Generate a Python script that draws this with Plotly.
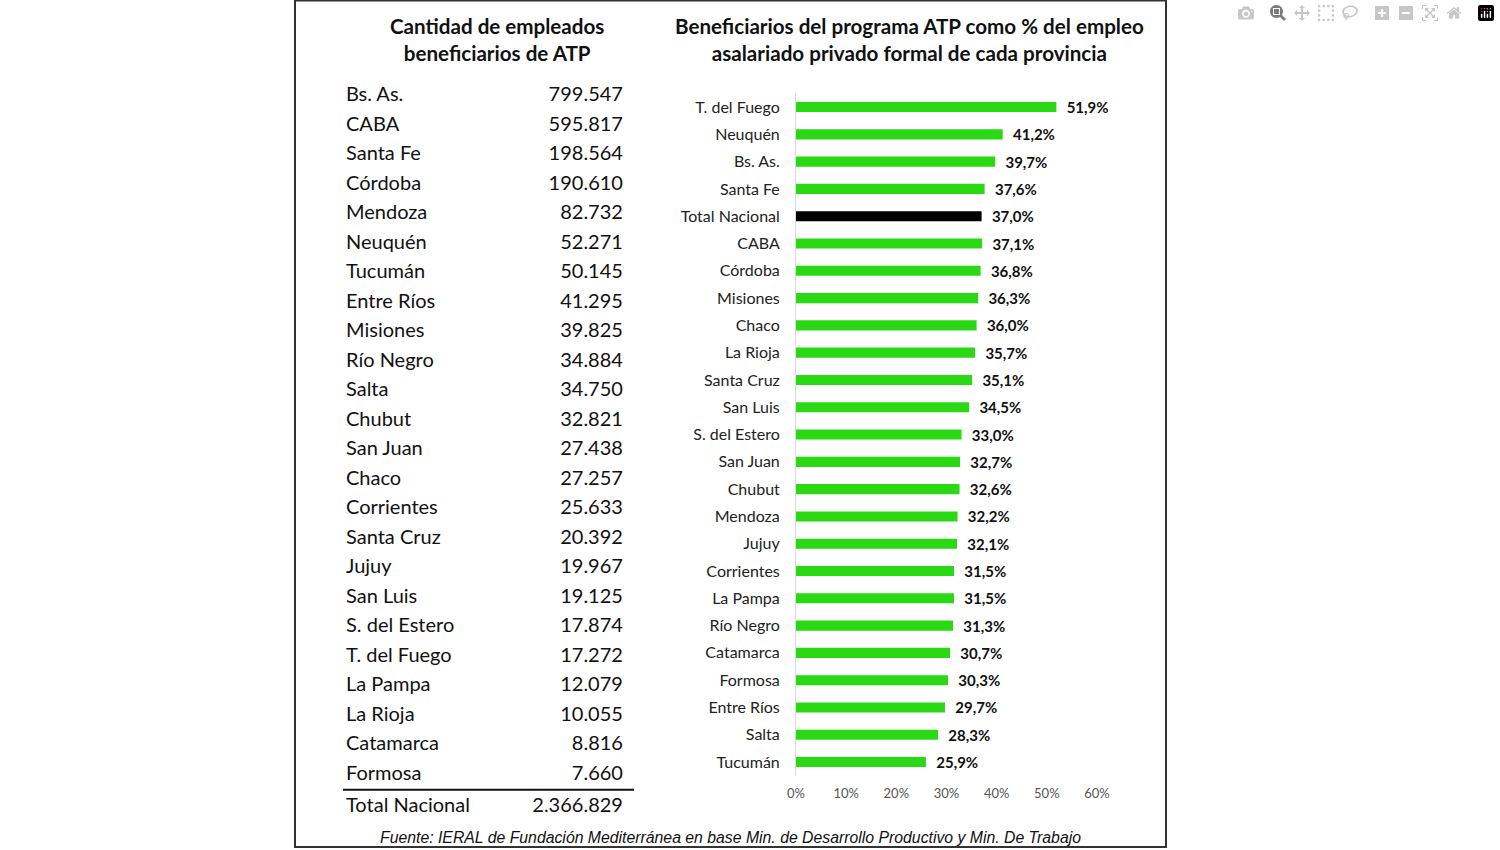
import plotly.graph_objects as go

# ---- data ----
bar_labels = ["T. del Fuego", "Neuquén", "Bs. As.", "Santa Fe", "Total Nacional", "CABA",
              "Córdoba", "Misiones", "Chaco", "La Rioja", "Santa Cruz", "San Luis",
              "S. del Estero", "San Juan", "Chubut", "Mendoza", "Jujuy", "Corrientes",
              "La Pampa", "Río Negro", "Catamarca", "Formosa", "Entre Ríos", "Salta", "Tucumán"]
bar_values = [51.9, 41.2, 39.7, 37.6, 37.0, 37.1, 36.8, 36.3, 36.0, 35.7, 35.1, 34.5,
              33.0, 32.7, 32.6, 32.2, 32.1, 31.5, 31.5, 31.3, 30.7, 30.3, 29.7, 28.3, 25.9]

table_names = ["Bs. As.", "CABA", "Santa Fe", "Córdoba", "Mendoza", "Neuquén", "Tucumán",
               "Entre Ríos", "Misiones", "Río Negro", "Salta", "Chubut", "San Juan", "Chaco",
               "Corrientes", "Santa Cruz", "Jujuy", "San Luis", "S. del Estero", "T. del Fuego",
               "La Pampa", "La Rioja", "Catamarca", "Formosa", "Total Nacional"]
table_values = [799547, 595817, 198564, 190610, 82732, 52271, 50145, 41295, 39825, 34884,
                34750, 32821, 27438, 27257, 25633, 20392, 19967, 19125, 17874, 17272,
                12079, 10055, 8816, 7660, 2366829]

x_ticks = [0, 10, 20, 30, 40, 50, 60]
x_tick_text = [f"{v}%" for v in x_ticks]

W, H = 1500, 850
def px(x):
    return x / W
def py(y):
    return 1 - y / H

GREEN = "#2ad814"
bar_colors = ["#000000" if n == "Total Nacional" else GREEN for n in bar_labels]

fig = go.Figure()

fig.add_trace(go.Bar(
    x=bar_values, y=bar_labels, orientation="h",
    marker=dict(color=bar_colors, line=dict(width=0)),
    width=0.37,
    texttemplate="  %{x:.1f}%", textposition="outside", constraintext="none",
    textfont=dict(family="Lato", size=15, color="#111111", weight="bold"),
    cliponaxis=False, hoverinfo="skip", xaxis="x", yaxis="y",
))

# row positions: provinces evenly spaced, total row slightly separated below the rule
rows = list(range(len(table_names) - 1)) + [len(table_names) - 1 + 0.1]
fig.add_trace(go.Scatter(
    x=[0.0103] * len(table_names), y=rows, mode="text", text=table_names,
    textposition="middle right",
    textfont=dict(family="Lato", size=20, color="#111111"),
    xaxis="x2", yaxis="y2", hoverinfo="skip", cliponaxis=False,
))
fig.add_trace(go.Scatter(
    x=[0.962] * len(table_values), y=rows, mode="text", customdata=table_values,
    texttemplate="%{customdata:,d}", textposition="middle left",
    textfont=dict(family="Lato", size=20, color="#111111"),
    xaxis="x2", yaxis="y2", hoverinfo="skip", cliponaxis=False,
))

y_top, y_bot = 93.4, 775.7
fig.update_layout(
    width=W, height=H, margin=dict(l=0, r=0, t=0, b=0, autoexpand=False),
    paper_bgcolor="white", plot_bgcolor="white",
    separators=",.", showlegend=False,
    xaxis=dict(domain=[px(796), px(1097)], range=[0, 60], tickmode="array",
               tickvals=x_ticks, ticktext=x_tick_text,
               showgrid=False, zeroline=False, showline=False, automargin=False,
               tickfont=dict(family="Lato", size=13, color="#555555"), ticks="",
               ticklabelstandoff=8, anchor="y"),
    yaxis=dict(domain=[py(y_bot), py(y_top)], categoryorder="array",
               categoryarray=bar_labels[::-1], showgrid=False, zeroline=False,
               showline=True, linecolor="#d9d9d9", linewidth=1, ticks="",
               ticklabelstandoff=12, automargin=False,
               tickfont=dict(family="Lato", size=16, color="#222222"), anchor="x"),
    xaxis2=dict(domain=[px(343), px(634)], range=[0, 1], visible=False, anchor="y2"),
    yaxis2=dict(domain=[py(819.2), py(81.24)], range=[24.5, -0.5], visible=False, anchor="x2"),
)

# table rules
for yv in [-0.64, 23.5]:
    fig.add_shape(type="line", xref="x2", yref="y2", x0=0, x1=1, y0=yv, y1=yv,
                  line=dict(color="#111111", width=2))

# outer frame
fig.add_shape(type="rect", xref="paper", yref="paper", x0=px(295), x1=px(1166),
              y0=py(847), y1=py(0.5), line=dict(color="#333333", width=2))

title_font = dict(family="Lato", size=20.6, color="#111111", weight="bold")
fig.add_annotation(x=px(497), y=py(39.5), xref="paper", yref="paper", showarrow=False,
                   text="Cantidad de empleados<br>beneficiarios de ATP", font=title_font,
                   align="center", xanchor="center", yanchor="middle")
fig.add_annotation(x=px(909), y=py(39.5), xref="paper", yref="paper", showarrow=False,
                   text="Beneficiarios del programa ATP como % del empleo<br>asalariado privado formal de cada provincia",
                   font=title_font, align="center", xanchor="center", yanchor="middle")
fig.add_annotation(x=px(730), y=py(837), xref="paper", yref="paper", showarrow=False,
                   text="<i>Fuente: IERAL de Fundación Mediterránea en base Min. de Desarrollo Productivo y Min. De Trabajo</i>",
                   font=dict(family="Liberation Sans", size=15.8, color="#111111"),
                   xanchor="center", yanchor="middle")

fig.write_html("out.html", post_script="document.body.style.margin='0';")
